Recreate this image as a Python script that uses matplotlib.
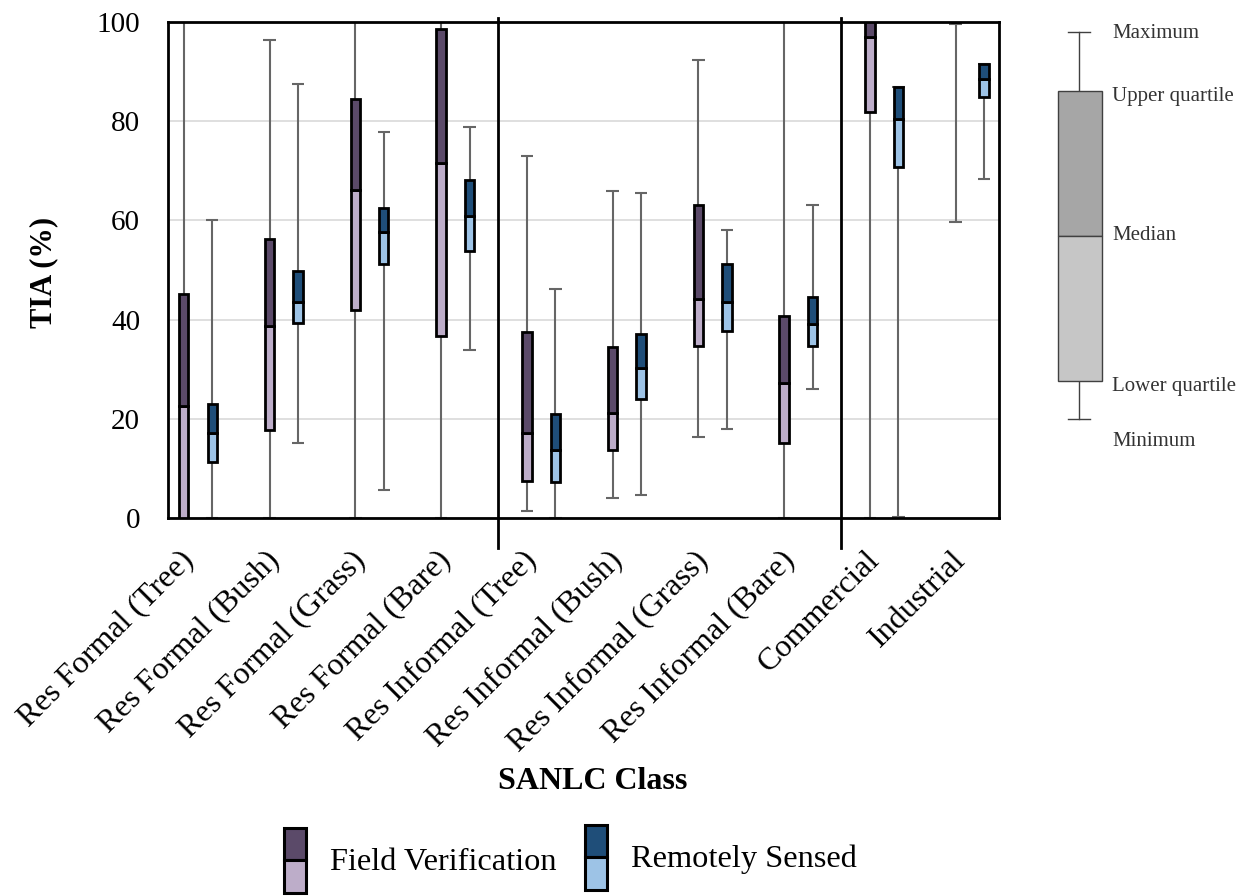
import matplotlib
matplotlib.use("Agg")
import matplotlib.pyplot as plt
from matplotlib.patches import Rectangle
import numpy as np

plt.rcParams['font.family'] = ['Liberation Serif', 'DejaVu Serif']

classes = ["Res Formal (Tree)", "Res Formal (Bush)", "Res Formal (Grass)", "Res Formal (Bare)",
           "Res Informal (Tree)", "Res Informal (Bush)", "Res Informal (Grass)", "Res Informal (Bare)",
           "Commercial", "Industrial"]

# field verification: min, q1, median, q3, max
fv_min = [0, 0, 0, 0, 1.5, 4.0, 16.4, 0, 0, 59.6]
fv_q1 = [0, 17.7, 41.9, 36.6, 7.5, 13.8, 34.6, 15.2, 81.9, 100]
fv_med = [22.5, 38.7, 66.2, 71.5, 17.2, 21.1, 44.1, 27.2, 97.0, 100]
fv_q3 = [45.1, 56.2, 84.4, 98.5, 37.6, 34.4, 63.1, 40.8, 100, 100]
fv_max = [100, 96.4, 100, 100, 73.0, 66.0, 92.4, 100, 100, 99.6]

# remotely sensed
rs_min = [0, 15.1, 5.7, 33.9, 0, 4.6, 18.0, 26.1, 0.3, 68.3]
rs_q1 = [11.3, 39.3, 51.3, 53.8, 7.2, 24.0, 37.8, 34.6, 70.7, 84.8]
rs_med = [17.1, 43.5, 57.6, 60.9, 13.8, 30.3, 43.5, 39.1, 80.5, 88.6]
rs_q3 = [23.0, 49.7, 62.6, 68.1, 20.9, 37.1, 51.2, 44.6, 86.9, 91.6]
rs_max = [60.0, 87.6, 77.9, 78.9, 46.2, 65.6, 58.0, 63.2, 86.9, 91.6]

fv_dark, fv_light = "#5b4a69", "#bdadc9"
rs_dark, rs_light = "#1f4e79", "#9dc3e6"
whisk = "#666666"

fig = plt.figure(figsize=(12.44, 8.96), dpi=100)
ax = fig.add_axes([168/1244, 1 - 518/896, (999-168)/1244, (518-22)/896])

x = np.arange(len(classes))
off = 0.166
bw = 0.11
capw = 0.145


def draw(pos, mn, q1, med, q3, mx, dark, light):
    mn, q1, med, q3, mx = map(np.array, (mn, q1, med, q3, mx))
    ax.vlines(pos, mn, mx, color=whisk, lw=1.5, zorder=2)
    ax.hlines(mx, pos - capw/2, pos + capw/2, color=whisk, lw=1.5, zorder=2)
    ax.hlines(mn, pos - capw/2, pos + capw/2, color=whisk, lw=1.5, zorder=2)
    ax.bar(pos, med - q1, bottom=q1, width=bw, color=light, edgecolor="black", lw=2, zorder=3)
    ax.bar(pos, q3 - med, bottom=med, width=bw, color=dark, edgecolor="black", lw=2, zorder=3)


draw(x - off, fv_min, fv_q1, fv_med, fv_q3, fv_max, fv_dark, fv_light)
draw(x + off, rs_min, rs_q1, rs_med, rs_q3, rs_max, rs_dark, rs_light)

ax.set_xlim(-0.35, 9.34)
ax.set_ylim(0, 100)
ax.set_yticks([0, 20, 40, 60, 80, 100])
ax.yaxis.grid(True, color="#d9d9d9", lw=1.2)
ax.set_axisbelow(True)
ax.tick_params(axis="y", length=0, pad=20, labelsize=21)
ax.set_xticks([])
for s in ax.spines.values():
    s.set_linewidth(2)
    s.set_color("black")

# group separators
for sx in [3.5, 7.5]:
    ax.plot([sx, sx], [100.8, -6], color="black", lw=2, clip_on=False, zorder=4)

# category labels
for lx, name in zip(x - 0.1, classes):
    ax.text(lx, -7.6, name, rotation=45, rotation_mode="anchor", ha="right", va="center",
            fontsize=23, clip_on=False)

fig.text(593/1244, 1 - 781/896, "SANLC Class", ha="center", va="center", fontsize=23, fontweight="bold")
fig.text(44/1244, 1 - 272/896, "TIA (%)", ha="center", va="center", fontsize=22, fontweight="bold",
         rotation=90)

# overlay for legends, pixel coordinates
ov = fig.add_axes([0, 0, 1, 1])
ov.set_xlim(0, 1244)
ov.set_ylim(896, 0)
ov.axis("off")

for gx, gy, dark, light, label in [(284, 828, fv_dark, fv_light, "Field Verification"),
                                    (585, 825, rs_dark, rs_light, "Remotely Sensed")]:
    ov.add_patch(Rectangle((gx, gy), 22, 32, facecolor=dark, edgecolor="black", lw=2.2))
    ov.add_patch(Rectangle((gx, gy + 32), 22, 33, facecolor=light, edgecolor="black", lw=2.2))
    ov.text(gx + 46, gy + 34, label, ha="left", va="center", fontsize=23.3)

# schematic box legend
ov.plot([1079, 1079], [32, 419], color="#404040", lw=1, zorder=1)
ov.plot([1068, 1090], [32, 32], color="#404040", lw=1, zorder=1)
ov.plot([1068, 1090], [419, 419], color="#404040", lw=1, zorder=1)
ov.add_patch(Rectangle((1058, 91), 44, 145, facecolor="#a6a6a6", edgecolor="#404040", lw=1, zorder=2))
ov.add_patch(Rectangle((1058, 236), 44, 145, facecolor="#c6c6c6", edgecolor="#404040", lw=1, zorder=2))
for ty, t in [(33, "Maximum"), (97, "Upper quartile"), (235, "Median"),
              (387, "Lower quartile"), (441, "Minimum")]:
    ov.text(1112, ty, t, ha="left", va="center", fontsize=15, color="#333333")

fig.savefig("out.png", dpi=100)
